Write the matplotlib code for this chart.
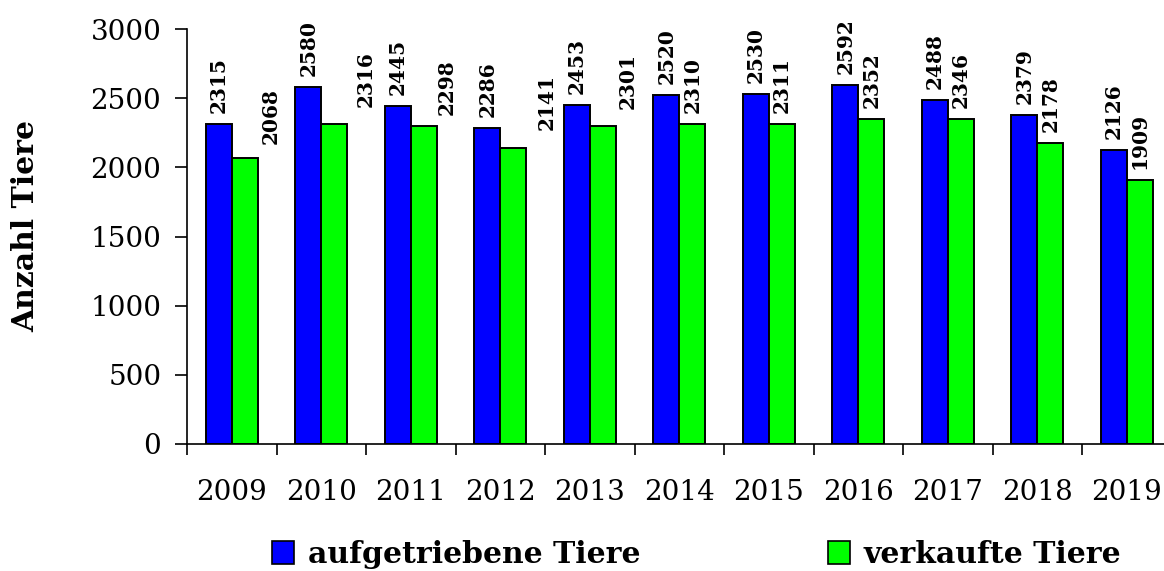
import numpy as np
import matplotlib
matplotlib.use("Agg")
import matplotlib.pyplot as plt
from matplotlib.patches import Patch

# data
years = ["2009", "2010", "2011", "2012", "2013", "2014",
         "2015", "2016", "2017", "2018", "2019"]
aufgetrieben = [2315, 2580, 2445, 2286, 2453, 2520, 2530, 2592, 2488, 2379, 2126]
verkauft = [2068, 2316, 2298, 2141, 2301, 2310, 2311, 2352, 2346, 2178, 1909]
series_names = ["aufgetriebene Tiere", "verkaufte Tiere"]

# label placement of the green values (in bar widths / points), as in the original
green_dx = [1.0, 1.2, 0.9, 1.3, 0.95, 0, 0, 0, 0, 0, 0]
green_dy = [2, 4, 0, 5, 4, 0, 0, 0, 0, 0, 0]

plt.rcParams['font.family'] = 'DejaVu Serif'

W, H = 1164, 571
fig = plt.figure(figsize=(W / 100, H / 100), dpi=100)
# axes runs slightly past the right edge, like the cropped original
ax = fig.add_axes([187 / W, 1 - 444 / H, (1171.5 - 187) / W, (444 - 29) / H])

x = np.arange(len(years))
bw = 0.29
blue = "#0000FF"
green = "#00FF00"

ax.bar(x - bw / 2, aufgetrieben, bw, color=blue, edgecolor="black", linewidth=1.4)
ax.bar(x + bw / 2, verkauft, bw, color=green, edgecolor="black", linewidth=1.4)

for i in range(len(years)):
    ax.annotate(str(aufgetrieben[i]), (x[i] - bw / 2, aufgetrieben[i]),
                xytext=(0, 8), textcoords="offset points", rotation=90,
                ha="center", va="bottom", fontsize=14.5, fontweight="bold")
    ax.annotate(str(verkauft[i]), (x[i] + bw / 2 + green_dx[i] * bw, verkauft[i]),
                xytext=(0, 8 + green_dy[i]), textcoords="offset points", rotation=90,
                ha="center", va="bottom", fontsize=14.5, fontweight="bold")

ax.set_xlim(-0.5, len(years) - 0.5)
ax.set_ylim(0, 3000)
ax.set_yticks(np.arange(0, 3001, 500))
ax.tick_params(axis="y", direction="out", length=8.5, width=1.2, pad=10, labelsize=20)

# tick marks between the categories, labels at the centres
ax.set_xticks(np.arange(-0.5, len(years), 1.0))
ax.set_xticklabels([])
ax.set_xticks(x, minor=True)
ax.set_xticklabels(years, minor=True)
ax.tick_params(axis="x", which="major", direction="out", length=8, width=1.2)
ax.tick_params(axis="x", which="minor", length=0, pad=25, labelsize=20)

for s in ["top", "right"]:
    ax.spines[s].set_visible(False)
for s in ["left", "bottom"]:
    ax.spines[s].set_linewidth(1.2)

fig.text(26 / W, 1 - 226 / H, "Anzahl Tiere", rotation=90, ha="center", va="center",
         fontsize=21.5, fontweight="bold")

# legend: two entries placed apart like the original
leg_kw = dict(frameon=False, loc="center left", borderpad=0, borderaxespad=0,
              handlelength=0.75, handleheight=0.8, handletextpad=0.45,
              prop={"size": 21.5, "weight": "bold"})
h1 = Patch(facecolor=blue, edgecolor="black", linewidth=1.2)
h2 = Patch(facecolor=green, edgecolor="black", linewidth=1.2)
leg1 = fig.legend([h1], [series_names[0]], bbox_to_anchor=(272 / W, 1 - 554.5 / H), **leg_kw)
leg2 = fig.legend([h2], [series_names[1]], bbox_to_anchor=(828 / W, 1 - 554.5 / H), **leg_kw)

fig.savefig("out.png", dpi=100)
